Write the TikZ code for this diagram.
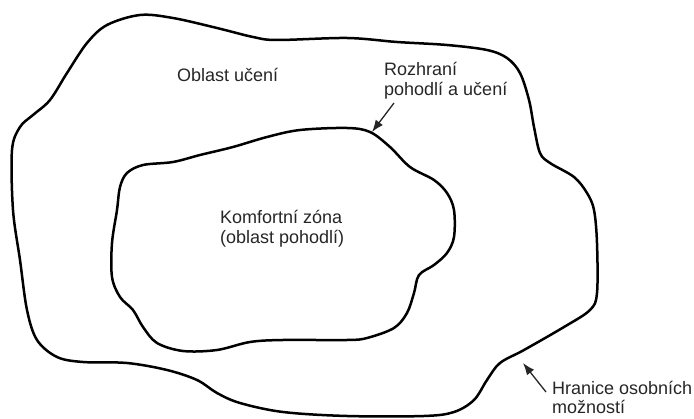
\documentclass[tikz,border=0pt]{standalone}
\usepackage{fontspec}
\setmainfont{Liberation Sans}
\usetikzlibrary{arrows.meta}
\tikzset{
  boundary/.style={line width=2.5pt, line join=round},
  lbl/.style={anchor=base west, inner sep=0pt, font=\fontsize{18}{20}\selectfont, text=black!85},
  pointer/.style={line width=1.3pt, black!85, -{Latex[length=12pt,width=9pt]}}
}
\begin{document}
\begin{tikzpicture}[x=1pt,y=-1pt]
\useasboundingbox (0,0) rectangle (694,419);
% outer boundary
\draw[boundary] plot[smooth cycle, tension=0.55] coordinates {
(13,210) (12,150) (20,127) (33,115) (50,100) (67,73) (87,43) (107,25) (140,15)
(173,18) (217,28) (253,37) (277,40) (347,38) (397,42) (447,45) (487,50) (507,58)
(520,73) (529,100) (534,127) (540,153) (550,163) (574,177) (587,193) (594,210)
(597,243) (597,293) (590,310) (564,327) (524,350) (500,363) (487,380) (474,400)
(454,412) (424,416) (347,416) (283,412) (240,403) (217,393) (197,380) (167,370)
(127,363) (83,362) (57,357) (37,340) (27,310) (20,260)};
% inner boundary
\draw[boundary] plot[smooth cycle, tension=0.55] coordinates {
(117,210) (120,187) (127,173) (143,165) (173,162) (200,155) (233,147) (267,137)
(300,130) (347,128) (370,132) (390,147) (410,167) (434,180) (447,193) (454,210)
(454,237) (447,253) (434,265) (419,275) (414,293) (407,313) (394,328) (367,338)
(347,340) (283,340) (250,342) (217,350) (183,351) (157,343) (143,327) (133,310)
(120,297) (112,277) (112,243)};
% labels
\node[lbl] (learn) at (177,82) {Oblast učení};
\node[lbl] (rozA) at (384,76) {Rozhraní};
\node[lbl] (rozB) at (384,96) {pohodlí a učení};
\node[lbl] (komA) at (220,224) {Komfortní zóna};
\node[lbl] (komB) at (220,244) {(oblast pohodlí)};
\node[lbl] (hraA) at (552,395) {Hranice osobních};
\node[lbl] (hraB) at (552,414) {možností};
% pointers
\coordinate (rTail) at (394,103);
\coordinate (rTip) at (372,132);
\coordinate (hTail) at (546,392);
\coordinate (hTip) at (523,363);
\draw[pointer] (rTail) -- (rTip);
\draw[pointer] (hTail) -- (hTip);
\end{tikzpicture}
\end{document}
